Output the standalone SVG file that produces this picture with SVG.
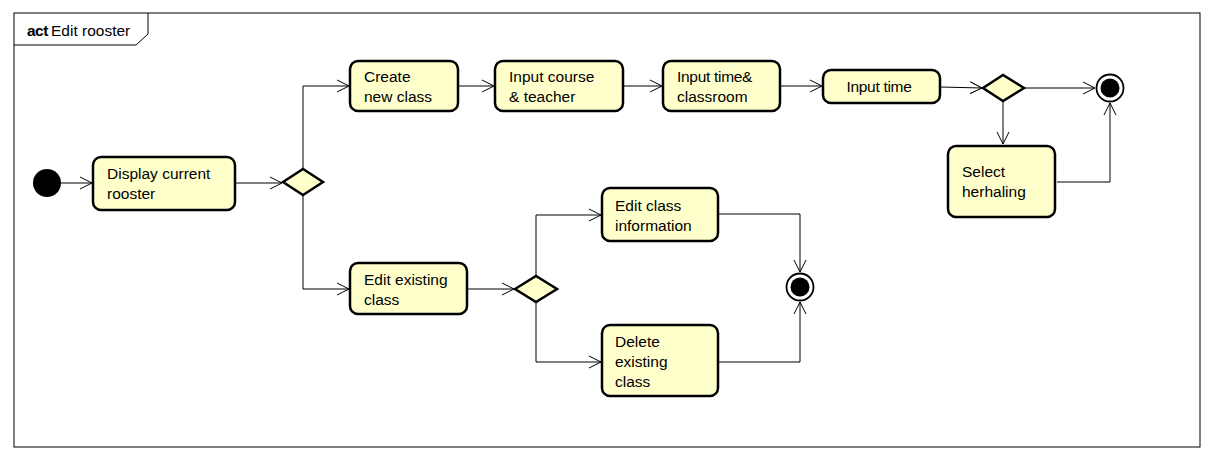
<svg xmlns="http://www.w3.org/2000/svg" width="1214" height="461" viewBox="0 0 1214 461">
<style>
.node{fill:#ffffcc;stroke:#000;stroke-width:2.5}
.conn{fill:none;stroke:#000;stroke-width:1}
text{font-family:"Liberation Sans",Arial,sans-serif;font-size:15.5px;fill:#000}
</style>
<defs>
<marker id="arr" markerWidth="14" markerHeight="14" refX="12" refY="7" orient="auto" markerUnits="userSpaceOnUse">
<path d="M0,1 L12,7 L0,13" fill="none" stroke="#000" stroke-width="1"/>
</marker>
</defs>
<rect width="1214" height="461" fill="#fff"/>
<g id="frame">
<rect x="14" y="13" width="1186" height="434" fill="none" stroke="#000" stroke-width="1"/>
<path d="M14,45 L136,45 L148,34 L148,13" fill="none" stroke="#000" stroke-width="1"/>
<text x="27" y="36"><tspan font-weight="bold" letter-spacing="-0.5">act</tspan><tspan x="51">Edit rooster</tspan></text>
</g>
<g id="connectors">
<path class="conn" d="M61,183 L92,183" marker-end="url(#arr)"/>
<path class="conn" d="M235,183 L282,183" marker-end="url(#arr)"/>
<path class="conn" d="M303,169 L303,86 L349,86" marker-end="url(#arr)"/>
<path class="conn" d="M303,195 L303,289 L349,289" marker-end="url(#arr)"/>
<path class="conn" d="M458,86 L494,86" marker-end="url(#arr)"/>
<path class="conn" d="M623,86 L662,86" marker-end="url(#arr)"/>
<path class="conn" d="M780,86 L822,86" marker-end="url(#arr)"/>
<path class="conn" d="M940,87 L982,88" marker-end="url(#arr)"/>
<path class="conn" d="M1024,88 L1095,88" marker-end="url(#arr)"/>
<path class="conn" d="M1003,101 L1003,144" marker-end="url(#arr)"/>
<path class="conn" d="M1057,182 L1110,182 L1110,103" marker-end="url(#arr)"/>
<path class="conn" d="M467,289 L514,289" marker-end="url(#arr)"/>
<path class="conn" d="M536,275 L536,215 L601,215" marker-end="url(#arr)"/>
<path class="conn" d="M536,302 L536,362 L601,362" marker-end="url(#arr)"/>
<path class="conn" d="M718,214 L800,214 L800,272" marker-end="url(#arr)"/>
<path class="conn" d="M718,362 L800,362 L800,302" marker-end="url(#arr)"/>
</g>
<g id="start">
<circle cx="47" cy="183" r="14" fill="#000"/>
</g>
<g id="display">
<rect class="node" x="93" y="157" width="142" height="53" rx="8"/>
<text x="107" y="179">Display current</text>
<text x="107" y="199">rooster</text>
</g>
<g id="decision1">
<path class="node" d="M283,182 L303,169 L323,182 L303,195 Z"/>
</g>
<g id="create">
<rect class="node" x="350" y="61" width="108" height="50" rx="8"/>
<text x="364" y="82">Create</text>
<text x="364" y="102">new class</text>
</g>
<g id="course">
<rect class="node" x="495" y="61" width="128" height="50" rx="8"/>
<text x="509" y="82">Input course</text>
<text x="509" y="102">&amp; teacher</text>
</g>
<g id="timeclassroom">
<rect class="node" x="663" y="61" width="117" height="50" rx="8"/>
<text x="677" y="82" letter-spacing="-0.3">Input time&amp;</text>
<text x="677" y="102">classroom</text>
</g>
<g id="inputtime">
<rect class="node" x="823" y="70" width="117" height="33" rx="8"/>
<text x="879" y="92" text-anchor="middle" letter-spacing="-0.3">Input time</text>
</g>
<g id="decision2">
<path class="node" d="M983,88 L1003,75 L1024,88 L1003,101 Z"/>
</g>
<g id="end1">
<circle cx="1110" cy="88" r="13.5" fill="#fff" stroke="#000" stroke-width="1.8"/>
<circle cx="1110" cy="88" r="9.5" fill="#000"/>
</g>
<g id="herhaling">
<rect class="node" x="948" y="146" width="107" height="71" rx="8"/>
<text x="962" y="177">Select</text>
<text x="962" y="197">herhaling</text>
</g>
<g id="editexisting">
<rect class="node" x="350" y="263" width="117" height="51" rx="8"/>
<text x="364" y="285">Edit existing</text>
<text x="364" y="305">class</text>
</g>
<g id="decision3">
<path class="node" d="M515,289 L536,276 L557,289 L536,302 Z"/>
</g>
<g id="editinfo">
<rect class="node" x="602" y="188" width="116" height="53" rx="8"/>
<text x="615" y="211">Edit class</text>
<text x="615" y="231">information</text>
</g>
<g id="delete">
<rect class="node" x="602" y="325" width="116" height="71" rx="8"/>
<text x="615" y="347">Delete</text>
<text x="615" y="367">existing</text>
<text x="615" y="387">class</text>
</g>
<g id="end2">
<circle cx="800" cy="287" r="13.5" fill="#fff" stroke="#000" stroke-width="1.8"/>
<circle cx="800" cy="287" r="9.5" fill="#000"/>
</g>
</svg>
